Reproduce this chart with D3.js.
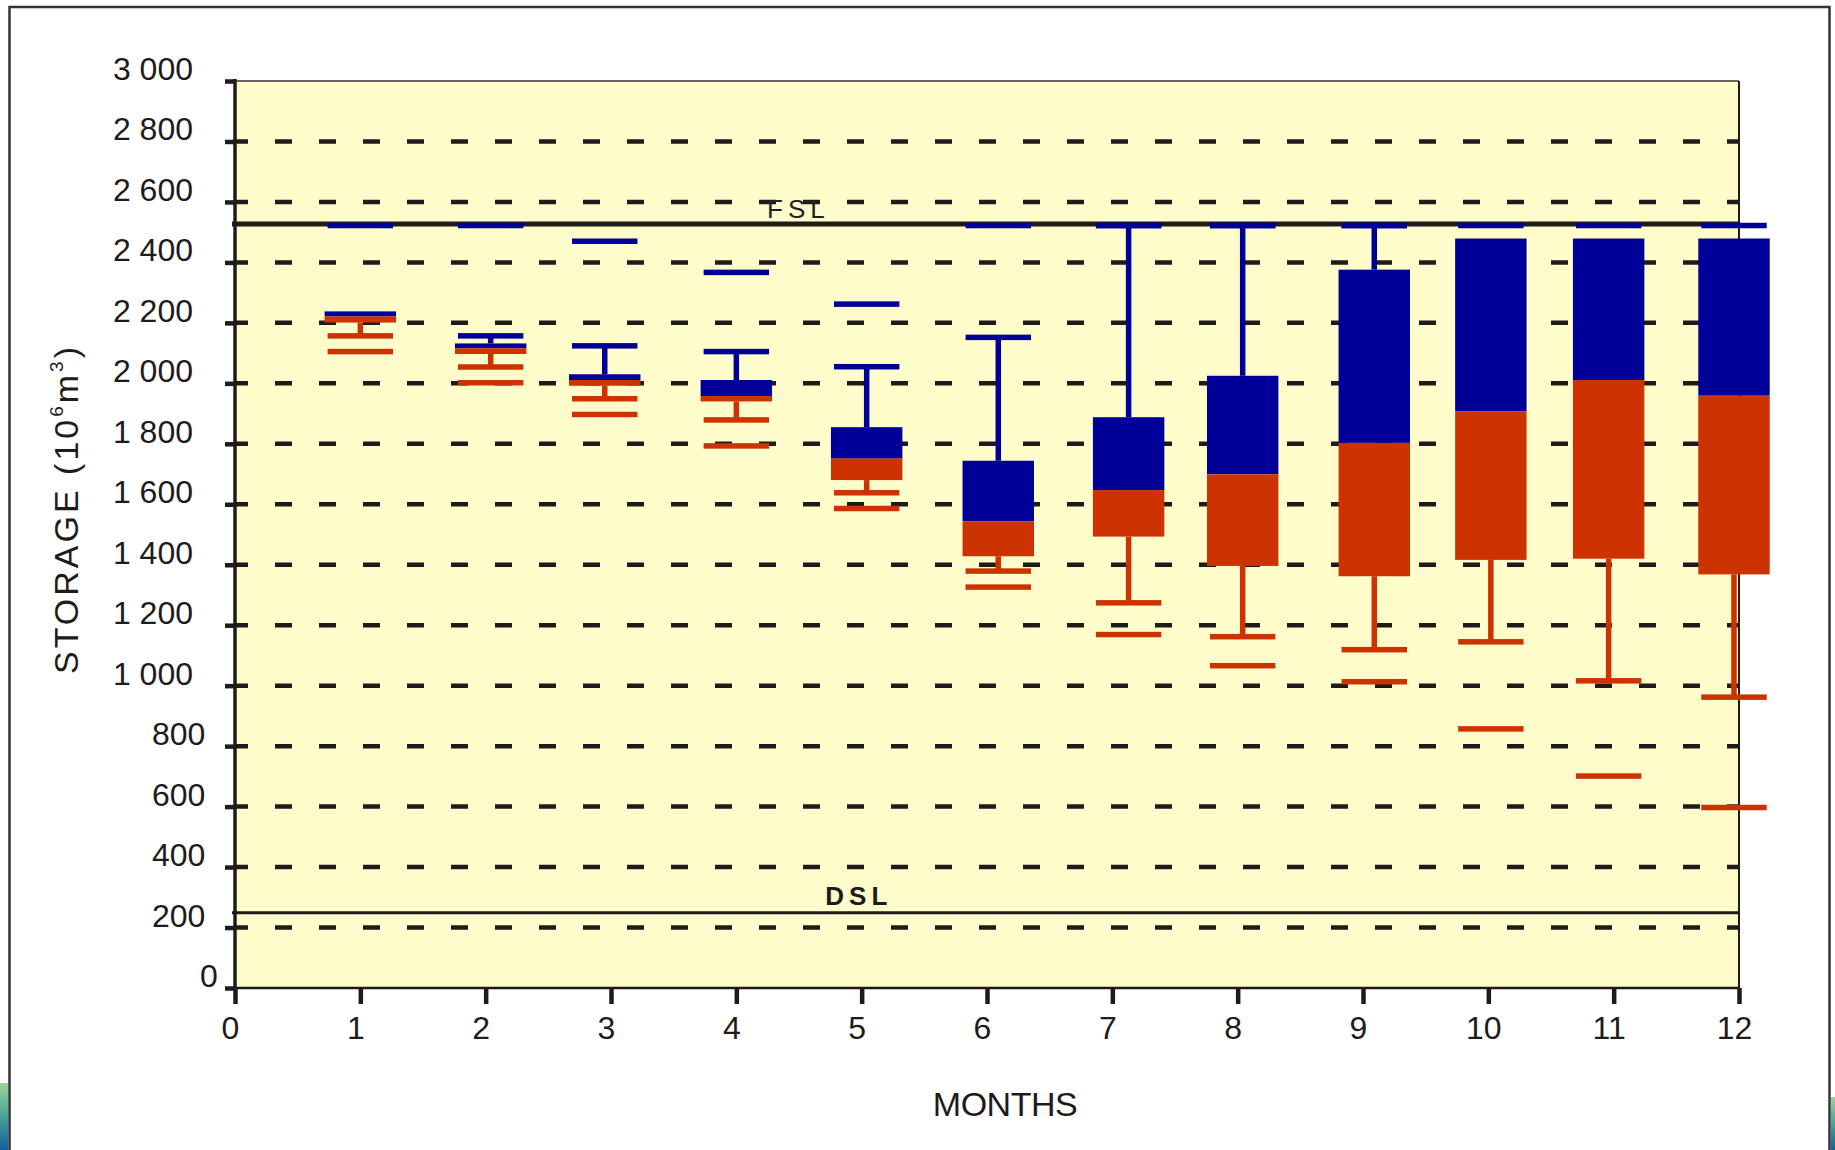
<!DOCTYPE html>
<html>
<head>
<meta charset="utf-8">
<script src="https://cdn.jsdelivr.net/npm/d3@7"></script>
<style>
  body { margin: 0; background: #fff; }
  svg { display: block; }
</style>
</head>
<body>
<svg id="chart" width="1835" height="1150"></svg>
<script>
// month of each box; the boxes in the original sit a little off the ticks
const months = [1, 2, 3, 4, 5, 6, 7, 8, 9, 10, 11, 12];
const boxAt = [1.0, 2.04, 2.95, 4.0, 5.04, 6.09, 7.13, 8.04, 9.09, 10.02, 10.96, 11.96];

// storage statistics per month (10^6 m3)
const maxStorage = [2522, 2522, 2470, 2367, 2262, 2522, 2522, 2522, 2522, 2522, 2522, 2522];
const p90 = [2238, 2157, 2124, 2105, 2055, 2152, 2522, 2522, 2522, 2479, 2479, 2479];
const q3 = [2238, 2132, 2030, 2011, 1855, 1744, 1888, 2025, 2376, 2479, 2479, 2479];
const median = [2221, 2116, 2011, 1958, 1751, 1543, 1647, 1699, 1803, 1908, 2011, 1959];
const q1 = [2201, 2097, 1992, 1940, 1680, 1428, 1493, 1396, 1362, 1416, 1420, 1368];
const p10 = [2157, 2054, 1949, 1879, 1638, 1379, 1274, 1162, 1119, 1145, 1016, 962];
const minStorage = [2105, 2002, 1897, 1793, 1586, 1326, 1169, 1066, 1013, 857, 701, 597];

const FSL = 2527;
const DSL = 249;

const xTicks = [0, 1, 2, 3, 4, 5, 6, 7, 8, 9, 10, 11, 12];
const yTicks = [0, 200, 400, 600, 800, 1000, 1200, 1400, 1600, 1800, 2000, 2200, 2400, 2600, 2800, 3000];
const yTickLabels = ['0', '200', '400', '600', '800', '1 000', '1 200', '1 400', '1 600', '1 800',
                     '2 000', '2 200', '2 400', '2 600', '2 800', '3 000'];

const FONT = '"Liberation Sans", Arial, Helvetica, sans-serif';
const INK = '#1f1b1b';
const BLUE = '#000099';
const RED = '#cc3300';
const PAPER = '#fffccb';

const svg = d3.select('#chart').attr('font-family', FONT);

const x = d3.scaleLinear().domain([0, 12]).range([235, 1739]);
const y = d3.scaleLinear().domain([0, 3000]).range([988, 81]);

// slide frame + bits of the slide background peeking in at the corners
const grad = svg.append('defs').append('linearGradient')
  .attr('id', 'slidebg').attr('x1', 0).attr('y1', 0).attr('x2', 0).attr('y2', 1);
grad.append('stop').attr('offset', '0%').attr('stop-color', '#9fd39a');
grad.append('stop').attr('offset', '45%').attr('stop-color', '#4fa99a');
grad.append('stop').attr('offset', '100%').attr('stop-color', '#11609c');
svg.append('rect').attr('x', 0).attr('y', 1083).attr('width', 8).attr('height', 67).attr('fill', 'url(#slidebg)');
svg.append('rect').attr('x', 1831).attr('y', 1097).attr('width', 4).attr('height', 53).attr('fill', 'url(#slidebg)');
svg.append('rect')
  .attr('x', 9.5).attr('y', 7).attr('width', 1820).attr('height', 1160)
  .attr('fill', 'none').attr('stroke', '#333').attr('stroke-width', 2.5);

// plot area
svg.append('rect')
  .attr('x', x(0)).attr('y', y(3000))
  .attr('width', x(12) - x(0)).attr('height', y(0) - y(3000))
  .attr('fill', PAPER);

// dashed grid
svg.append('g')
  .selectAll('line')
  .data(yTicks.filter(v => v > 0 && v < 3000))
  .join('line')
    .attr('x1', x(0)).attr('x2', x(12))
    .attr('y1', d => y(d)).attr('y2', d => y(d))
    .attr('stroke', INK).attr('stroke-width', 4.5)
    .attr('stroke-dasharray', '17 27').attr('stroke-dashoffset', 4);

// FSL / DSL
svg.append('g')
  .selectAll('line')
  .data([{v: FSL, w: 5}, {v: DSL, w: 3}])
  .join('line')
    .attr('x1', x(0) - 3).attr('x2', x(12))
    .attr('y1', d => y(d.v)).attr('y2', d => y(d.v))
    .attr('stroke', INK).attr('stroke-width', d => d.w);

svg.append('text')
  .attr('x', x(4.245)).attr('y', y(FSL) - 6)
  .attr('font-size', 26).attr('letter-spacing', 5).attr('fill', '#222')
  .text('FSL');
svg.append('text')
  .attr('x', x(4.71)).attr('y', y(DSL) - 8)
  .attr('font-size', 26).attr('font-weight', 'bold').attr('letter-spacing', 5).attr('fill', INK)
  .text('DSL');

// plot frame
svg.append('line').attr('x1', x(0)).attr('x2', x(12)).attr('y1', y(3000)).attr('y2', y(3000))
  .attr('stroke', '#333').attr('stroke-width', 1.5);
svg.append('line').attr('x1', x(12)).attr('x2', x(12)).attr('y1', y(3000)).attr('y2', y(0))
  .attr('stroke', INK).attr('stroke-width', 2);
svg.append('line').attr('x1', x(0)).attr('x2', x(12)).attr('y1', y(0)).attr('y2', y(0))
  .attr('stroke', INK).attr('stroke-width', 2.3);
svg.append('line').attr('x1', x(0)).attr('x2', x(0)).attr('y1', y(3000) - 2).attr('y2', y(0))
  .attr('stroke', INK).attr('stroke-width', 3.5);

// y axis
const yAxis = svg.append('g')
  .attr('transform', `translate(${x(0)},0)`)
  .call(d3.axisLeft(y).tickValues(yTicks).tickSize(10).tickFormat((d, i) => yTickLabels[i]));
yAxis.attr('font-family', FONT).attr('font-size', 32);
yAxis.select('.domain').remove();
yAxis.selectAll('.tick line').attr('stroke', INK).attr('stroke-width', 4.5);
yAxis.selectAll('.tick text')
  .attr('fill', INK)
  .attr('x', (d, i) => 193 + (5 - yTickLabels[i].length) * 6.2 - x(0))
  .attr('dy', -1.5);

// x axis
const xAxis = svg.append('g')
  .attr('transform', `translate(0,${y(0)})`)
  .call(d3.axisBottom(x).tickValues(xTicks).tickSize(16).tickFormat(d3.format('d')));
xAxis.attr('font-family', FONT).attr('font-size', 32);
xAxis.select('.domain').remove();
xAxis.selectAll('.tick line').attr('stroke', INK).attr('stroke-width', 4.5);
xAxis.selectAll('.tick text').attr('fill', INK).attr('y', 51).attr('dy', 0).attr('dx', -5);

// axis titles
svg.append('text')
  .attr('x', 1005).attr('y', 1116)
  .attr('text-anchor', 'middle').attr('font-size', 34).attr('letter-spacing', -0.5).attr('fill', INK)
  .text('MONTHS');

const yTitle = svg.append('text')
  .attr('transform', 'translate(78,509) rotate(-90)')
  .attr('text-anchor', 'middle').attr('font-size', 34).attr('letter-spacing', 3).attr('fill', INK);
yTitle.append('tspan').text('STORAGE (10');
yTitle.append('tspan').attr('font-size', 19).attr('dy', -15).text('6');
yTitle.append('tspan').attr('dy', 15).text('m');
yTitle.append('tspan').attr('font-size', 19).attr('dy', -15).text('3');
yTitle.append('tspan').attr('dy', 15).text(')');

// box plots
const stats = months.map((m, i) => ({
  at: boxAt[i], max: maxStorage[i], p90: p90[i], q3: q3[i], med: median[i],
  q1: q1[i], p10: p10[i], min: minStorage[i]
}));

const BOX_HALF = 0.285;   // months
const CAP_HALF = 0.261;
const CAP_W = 5.5;         // px
const WHISKER_W = 5.5;

const box = svg.append('g')
  .selectAll('g')
  .data(stats)
  .join('g');

// whiskers
box.filter(d => d.p90 > d.q3).append('rect')
  .attr('x', d => x(d.at) - WHISKER_W / 2).attr('width', WHISKER_W)
  .attr('y', d => y(d.p90)).attr('height', d => y(d.q3) - y(d.p90))
  .attr('fill', BLUE);
box.filter(d => d.p10 < d.q1).append('rect')
  .attr('x', d => x(d.at) - WHISKER_W / 2).attr('width', WHISKER_W)
  .attr('y', d => y(d.q1)).attr('height', d => y(d.p10) - y(d.q1))
  .attr('fill', RED);

// upper (blue) and lower (red) halves of the box
box.append('rect')
  .attr('x', d => x(d.at - BOX_HALF)).attr('width', d => x(d.at + BOX_HALF) - x(d.at - BOX_HALF))
  .attr('y', d => y(d.q3)).attr('height', d => y(d.med) - y(d.q3))
  .attr('fill', BLUE);
box.append('rect')
  .attr('x', d => x(d.at - BOX_HALF)).attr('width', d => x(d.at + BOX_HALF) - x(d.at - BOX_HALF))
  .attr('y', d => y(d.med)).attr('height', d => y(d.q1) - y(d.med))
  .attr('fill', RED);

// caps
function caps(key, colour, keep) {
  box.filter(keep).append('rect')
    .attr('x', d => x(d.at - CAP_HALF)).attr('width', d => x(d.at + CAP_HALF) - x(d.at - CAP_HALF))
    .attr('y', d => y(d[key]) - CAP_W / 2).attr('height', CAP_W)
    .attr('fill', colour);
}
caps('max', BLUE, d => true);
caps('p90', BLUE, d => d.p90 > d.q3);
caps('p10', RED, d => d.p10 < d.q1);
caps('min', RED, d => true);
</script>
</body>
</html>
